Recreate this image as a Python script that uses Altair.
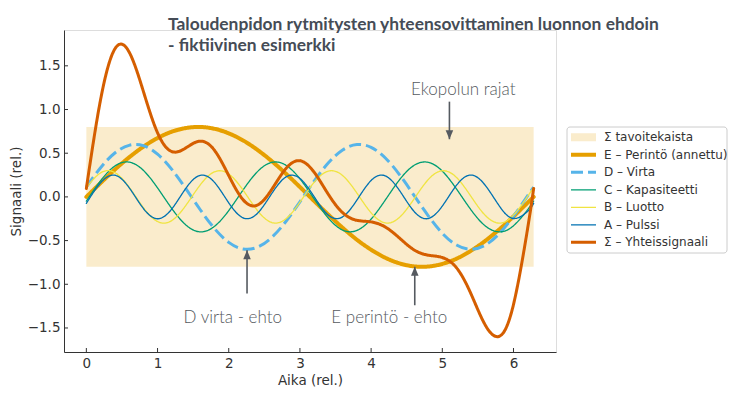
import altair as alt
import pandas as pd

# ---------------- data ----------------
x_vals = [0.0, 0.2, 0.4, 0.6, 0.8, 1.0, 1.2, 1.4, 1.6, 1.8, 2.0, 2.2, 2.4, 2.6, 2.8, 3.0,
          3.2, 3.4, 3.6, 3.8, 4.0, 4.2, 4.4, 4.6, 4.8, 5.0, 5.2, 5.4, 5.6, 5.8, 6.0, 6.2, 6.283]

E_perinto = [0.0, 0.159, 0.312, 0.452, 0.574, 0.673, 0.746, 0.788, 0.800, 0.779, 0.727, 0.647,
             0.540, 0.412, 0.268, 0.113, -0.047, -0.204, -0.354, -0.490, -0.605, -0.697, -0.761,
             -0.795, -0.797, -0.767, -0.707, -0.618, -0.505, -0.372, -0.224, -0.066, 0.0]
D_virta = [0.113, 0.334, 0.502, 0.590, 0.586, 0.489, 0.315, 0.091, -0.147, -0.362, -0.520, -0.596,
           -0.577, -0.467, -0.284, -0.056, 0.181, 0.390, 0.537, 0.599, 0.567, 0.445, 0.253, 0.021,
           -0.214, -0.416, -0.551, -0.600, -0.554, -0.420, -0.221, 0.014, 0.113]
C_kapasiteetti = [-0.048, 0.185, 0.353, 0.398, 0.304, 0.103, -0.133, -0.323, -0.400, -0.337, -0.157,
                  0.078, 0.286, 0.394, 0.364, 0.207, -0.022, -0.244, -0.380, -0.384, -0.254, -0.035,
                  0.197, 0.359, 0.396, 0.295, 0.090, -0.145, -0.330, -0.400, -0.330, -0.145, -0.048]
B_luotto = [0.106, 0.275, 0.278, 0.112, -0.122, -0.282, -0.271, -0.095, 0.138, 0.287, 0.262, 0.079,
            -0.153, -0.292, -0.253, -0.061, 0.168, 0.295, 0.244, 0.044, -0.182, -0.298, -0.233,
            -0.027, 0.196, 0.299, 0.222, 0.009, -0.209, -0.300, -0.209, 0.008, 0.106]
A_pulssi = [-0.074, 0.161, 0.248, 0.107, -0.132, -0.250, -0.138, 0.101, 0.247, 0.166, -0.068, -0.239,
            -0.191, 0.033, 0.226, 0.211, 0.002, -0.209, -0.228, -0.037, 0.188, 0.240, 0.072, -0.163,
            -0.248, -0.105, 0.134, 0.250, 0.136, -0.103, -0.247, -0.164, -0.074]
S_yhteis = [0.097, 1.114, 1.693, 1.659, 1.210, 0.733, 0.519, 0.562, 0.638, 0.533, 0.244, -0.031,
            -0.095, 0.080, 0.321, 0.414, 0.282, 0.028, -0.181, -0.268, -0.286, -0.345, -0.472,
            -0.605, -0.667, -0.694, -0.812, -1.104, -1.462, -1.595, -1.231, -0.353, 0.097]

band_x = [0.0, 6.283]
band_y = [-0.8, 0.8]

series_names = ["Σ tavoitekaista", "E – Perintö (annettu)", "D – Virta", "C – Kapasiteetti",
                "B – Luotto", "A – Pulssi", "Σ – Yhteissignaali"]

x_ticks = [0, 1, 2, 3, 4, 5, 6]
y_ticks = [-1.5, -1.0, -0.5, 0.0, 0.5, 1.0, 1.5]

title_lines = ["Taloudenpidon rytmitysten yhteensovittaminen luonnon ehdoin",
               "- fiktiivinen esimerkki"]

note_labels = ["Ekopolun rajat", "D virta - ehto", "E perintö - ehto"]
note_x = [5.295, 2.056, 4.255]
note_y = [1.222, -1.389, -1.389]

arrow_x = [5.10, 2.257, 4.613]
arrow_tail = [1.09, -1.106, -1.24]
arrow_tip = [0.66, -0.61, -0.80]
arrow_dir = ["down", "up", "up"]

# ---------------- styling ----------------
colors = ["#faeccc", "#E69F00", "#56B4E9", "#009E73", "#F0E442", "#0072B2", "#D55E00"]
dashes = [[1, 0], [1, 0], [12, 5], [1, 0], [1, 0], [1, 0], [1, 0]]
widths = [8, 4, 3, 1.3, 1.3, 1.3, 3]

W, H = 492, 322
TXT = "#333333"
ANN = "#555a60"

xscale = alt.Scale(domain=[-0.314, 6.597], nice=False, zero=False)
yscale = alt.Scale(domain=[-1.775, 1.91], nice=False, zero=False)
xaxis = alt.Axis(values=x_ticks, ticks=False, grid=False, domainColor=TXT, domainWidth=1,
                 labelFont="DejaVu Sans", labelFontSize=13.5, labelColor=TXT, labelPadding=4,
                 labelFlush=False, titleFont="DejaVu Sans", titleFontSize=13.5,
                 titleFontWeight="normal", titleColor=TXT, titlePadding=4, format="d")
yaxis = alt.Axis(values=y_ticks, ticks=False, grid=False, domainColor=TXT, domainWidth=1,
                 labelFont="DejaVu Sans", labelFontSize=13.5, labelColor=TXT, labelPadding=4,
                 labelFlush=False, titleFont="DejaVu Sans", titleFontSize=13.5,
                 titleFontWeight="normal", titleColor=TXT, titlePadding=4, format=".1f")


def X(field):
    return alt.X(field, type="quantitative", scale=xscale, axis=xaxis, title="Aika (rel.)")


def Y(field):
    return alt.Y(field, type="quantitative", scale=yscale, axis=yaxis, title="Signaali (rel.)")


color_scale = alt.Scale(domain=series_names, range=colors)
dash_scale = alt.Scale(domain=series_names, range=dashes)
width_scale = alt.Scale(type="ordinal", domain=series_names, range=widths)


def style_enc():
    return dict(
        color=alt.Color("series:N", scale=color_scale, legend=None),
        strokeDash=alt.StrokeDash("series:N", scale=dash_scale, legend=None),
        strokeWidth=alt.StrokeWidth("series:N", scale=width_scale, legend=None),
    )


# ---------------- layers ----------------
band_df = pd.DataFrame({"x0": [band_x[0]], "x1": [band_x[1]], "y0": [band_y[0]], "y1": [band_y[1]]})
band = alt.Chart(band_df).mark_rect(color=colors[0]).encode(
    x=X("x0"), x2="x1", y=Y("y0"), y2="y1")

series_values = [E_perinto, D_virta, C_kapasiteetti, B_luotto, A_pulssi, S_yhteis]
line_layers = []
for name, vals in zip(series_names[1:], series_values):
    df = pd.DataFrame({"x": x_vals, "y": vals, "series": name})
    cap = "butt" if name == "D – Virta" else "round"
    line_layers.append(
        alt.Chart(df).mark_line(interpolate="natural", strokeCap=cap).encode(
            x=X("x"), y=Y("y"), **style_enc())
    )

xt_df = pd.DataFrame({"t": x_ticks})
yt_df = pd.DataFrame({"t": y_ticks})
xticks_layer = alt.Chart(xt_df).mark_rule(color=TXT, strokeWidth=1).encode(
    x=X("t"), y=alt.value(H), y2=alt.value(H - 4))
yticks_layer = alt.Chart(yt_df).mark_rule(color=TXT, strokeWidth=1).encode(
    y=Y("t"), x=alt.value(0), x2=alt.value(4))

arrow_df = pd.DataFrame({"x": arrow_x, "tail": arrow_tail, "tip": arrow_tip, "dir": arrow_dir})
arrow_lines = alt.Chart(arrow_df).mark_rule(color=ANN, strokeWidth=1.6).encode(
    x=X("x"), y=Y("tail"), y2="tip")
head_down = alt.Chart(arrow_df).transform_filter(alt.datum.dir == "down").mark_point(
    shape="M-0.42,-1 L0.42,-1 L0,0 Z", size=324, filled=True, color=ANN, opacity=1,
    strokeWidth=0).encode(x=X("x"), y=Y("tip"))
head_up = alt.Chart(arrow_df).transform_filter(alt.datum.dir == "up").mark_point(
    shape="M-0.42,1 L0.42,1 L0,0 Z", size=324, filled=True, color=ANN, opacity=1,
    strokeWidth=0).encode(x=X("x"), y=Y("tip"))

note_df = pd.DataFrame({"label": note_labels, "x": note_x, "y": note_y})
notes = alt.Chart(note_df).mark_text(font="Lato", fontSize=17, fontWeight=300, color=ANN,
                                     align="center", baseline="middle").encode(
    x=X("x"), y=Y("y"), text="label:N")

title_df = pd.DataFrame({"t": ["\n".join(title_lines)]})
title_layer = alt.Chart(title_df).mark_text(
    align="left", baseline="alphabetic", font="Lato", fontWeight="bold", fontSize=17.4,
    color="#454c56", lineBreak="\n", lineHeight=20.5).encode(
    x=alt.value(104), y=alt.value(0), text="t:N")

# ---------------- legend (drawn as marks) ----------------
legend_df = pd.DataFrame({"series": series_names, "row": list(range(len(series_names)))})
legend_box = alt.Chart(pd.DataFrame({"k": [0]})).mark_rect(
    fill="white", stroke="#cccccc", strokeWidth=1, cornerRadius=3).encode(
    x=alt.value(503), x2=alt.value(663), y=alt.value(97), y2=alt.value(223))
legend_base = alt.Chart(legend_df).transform_calculate(ly="107.3 + datum.row * 17.5")
legend_symbols = legend_base.mark_rule(strokeCap="butt").encode(
    x=alt.value(507), x2=alt.value(532), y=alt.Y("ly:Q", scale=None), **style_enc())
legend_labels = legend_base.mark_text(
    align="left", baseline="middle", font="DejaVu Sans", fontSize=12, color=TXT).encode(
    x=alt.value(540), y=alt.Y("ly:Q", scale=None), text="series:N")

chart = alt.layer(
    band, *line_layers, xticks_layer, yticks_layer, arrow_lines, head_down, head_up, notes,
    title_layer, legend_box, legend_symbols, legend_labels
).properties(
    width=W, height=H,
    autosize=alt.AutoSizeParams(type="none"),
    padding={"left": 56, "top": 22, "right": 172, "bottom": 36},
).configure_view(stroke=None).configure(background="white")

chart.save("out.html", embed_options={"renderer": "svg", "actions": False})
